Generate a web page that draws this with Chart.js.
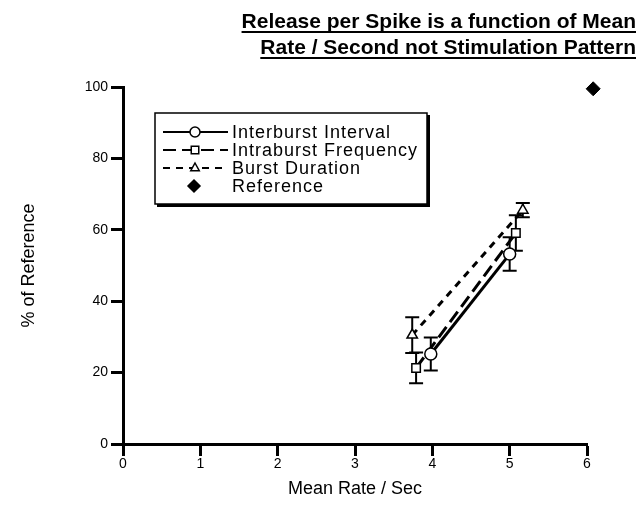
<!DOCTYPE html>
<html>
<head>
<meta charset="utf-8">
<style>
  html, body { margin: 0; padding: 0; background: #fff; }
  #wrap { width: 639px; height: 514px; }
</style>
<script src="https://cdn.jsdelivr.net/npm/chart.js@4/dist/chart.umd.min.js"></script>
</head>
<body>
<div id="wrap"><canvas id="rateChart" width="639" height="514"></canvas></div>
<script>
// values
const rateInterburst = [3.98, 5.0];
const pctInterburst = [25.2, 53.2];
const errInterburst = [4.6, 4.7];

const rateIntraburst = [3.79, 5.08];
const pctIntraburst = [21.3, 59.1];
const errIntraburst = [4.3, 5.0];

const rateBurstDur = [3.74, 5.17];
const pctBurstDur = [30.5, 65.5];
const errBurstDur = [5.0, 2.0];

const rateReference = [6.08];
const pctReference = [99.5];

const xTicks = [0, 1, 2, 3, 4, 5, 6];
const yTicks = [0, 20, 40, 60, 80, 100];

const titleLines = ['Release per Spike is a function of Mean', 'Rate / Second not Stimulation Pattern'];
const FONT = "'Liberation Sans', Arial, Helvetica, sans-serif";

function toPoints(xs, ys) {
    return xs.map((x, i) => ({ x: x, y: ys[i] }));
}

const seriesList = [
    { label: 'Interburst Interval', xs: rateInterburst, ys: pctInterburst, err: errInterburst, style: 'circle', dash: [] },
    { label: 'Intraburst Frequency', xs: rateIntraburst, ys: pctIntraburst, err: errIntraburst, style: 'rect', dash: [13, 6] },
    { label: 'Burst Duration', xs: rateBurstDur, ys: pctBurstDur, err: errBurstDur, style: 'triangle', dash: [7, 6] }
];

const datasets = seriesList.map(s => ({
    label: s.label,
    data: toPoints(s.xs, s.ys),
    showLine: true,
    borderColor: '#000',
    borderWidth: 3,
    borderDash: s.dash,
    pointStyle: s.style,
    pointRadius: 6,
    pointBackgroundColor: '#fff',
    pointBorderColor: '#000',
    pointBorderWidth: 1.5,
    errors: s.err
}));
datasets.push({
    label: 'Reference',
    data: toPoints(rateReference, pctReference),
    showLine: false,
    pointStyle: 'rectRot',
    pointRadius: 7,
    pointBackgroundColor: '#000',
    pointBorderColor: '#000',
    pointBorderWidth: 1,
    clip: false
});

// vertical error bars, drawn under the markers
const errorBars = {
    id: 'errorBars',
    beforeDatasetsDraw(chart) {
        const ctx = chart.ctx;
        const xs = chart.scales.x, ys = chart.scales.y;
        ctx.save();
        ctx.strokeStyle = '#000';
        ctx.lineWidth = 2;
        chart.data.datasets.forEach(ds => {
            if (!ds.errors) return;
            ds.data.forEach((p, i) => {
                const px = xs.getPixelForValue(p.x);
                const top = ys.getPixelForValue(p.y + ds.errors[i]);
                const bot = ys.getPixelForValue(p.y - ds.errors[i]);
                ctx.beginPath();
                ctx.moveTo(px, top); ctx.lineTo(px, bot);
                ctx.moveTo(px - 7, top); ctx.lineTo(px + 7, top);
                ctx.moveTo(px - 7, bot); ctx.lineTo(px + 7, bot);
                ctx.stroke();
            });
        });
        ctx.restore();
    }
};

function drawMarker(ctx, style, x, y, r, fill) {
    ctx.beginPath();
    if (style === 'circle') {
        ctx.arc(x, y, r, 0, Math.PI * 2);
    } else if (style === 'rect') {
        ctx.rect(x - r * 0.75, y - r * 0.75, r * 1.5, r * 1.5);
    } else if (style === 'triangle') {
        ctx.moveTo(x, y - r);
        ctx.lineTo(x + r * 0.85, y + r * 0.55);
        ctx.lineTo(x - r * 0.85, y + r * 0.55);
        ctx.closePath();
    } else {
        ctx.moveTo(x, y - r); ctx.lineTo(x + r, y); ctx.lineTo(x, y + r); ctx.lineTo(x - r, y);
        ctx.closePath();
    }
    ctx.fillStyle = fill;
    ctx.fill();
    ctx.lineWidth = 1.5;
    ctx.strokeStyle = '#000';
    ctx.stroke();
}

// boxed legend inside the plot + underlined title
const boxLegend = {
    id: 'boxLegend',
    afterDraw(chart) {
        const ctx = chart.ctx;
        ctx.save();
        // title
        ctx.fillStyle = '#000';
        ctx.font = 'bold 21px ' + FONT;
        ctx.textAlign = 'right';
        ctx.textBaseline = 'alphabetic';
        const baselines = [28, 54];
        titleLines.forEach((t, i) => {
            ctx.fillText(t, 636, baselines[i]);
            const w = ctx.measureText(t).width;
            ctx.fillRect(636 - w, baselines[i] + 3, w, 2);
        });

        // legend box
        const bx = 155, by = 113, bw = 272, bh = 91;
        ctx.fillStyle = '#fff';
        ctx.fillRect(bx, by, bw, bh);
        ctx.strokeStyle = '#000';
        ctx.lineWidth = 1.5;
        ctx.strokeRect(bx, by, bw, bh);
        ctx.fillStyle = '#000';
        ctx.fillRect(bx + 2, by + bh, bw, 3);
        ctx.fillRect(bx + bw, by + 2, 3, bh + 1);

        const rows = [132, 150, 168, 186];
        ctx.font = '18px ' + FONT;
        ctx.letterSpacing = '1px';
        ctx.textAlign = 'left';
        ctx.textBaseline = 'middle';
        chart.data.datasets.forEach((ds, i) => {
            const y = rows[i];
            if (ds.showLine) {
                ctx.beginPath();
                ctx.setLineDash(ds.borderDash);
                ctx.lineWidth = 2;
                ctx.moveTo(163, y); ctx.lineTo(228, y);
                ctx.stroke();
                ctx.setLineDash([]);
                drawMarker(ctx, ds.pointStyle, 195, y, 5, '#fff');
            } else {
                drawMarker(ctx, 'diamond', 194, y, 6, '#000');
            }
            ctx.fillStyle = '#000';
            ctx.fillText(ds.label, 232, y + 1);
        });
        ctx.restore();
    }
};

const axisFont = { family: FONT, size: 14 };
const titleFont = { family: FONT, size: 18 };

new Chart(document.getElementById('rateChart'), {
    type: 'scatter',
    data: { datasets: datasets },
    plugins: [errorBars, boxLegend],
    options: {
        responsive: false,
        animation: false,
        layout: { padding: { top: 87, right: 52, left: 0, bottom: 0 } },
        plugins: {
            legend: { display: false },
            title: { display: false },
            tooltip: { enabled: false }
        },
        scales: {
            x: {
                type: 'linear',
                min: 0,
                max: 6,
                afterBuildTicks: axis => { axis.ticks = xTicks.map(v => ({ value: v })); },
                afterFit: axis => { axis.height = 70; },
                ticks: { color: '#000', font: axisFont, padding: 0 },
                grid: { drawOnChartArea: false, drawTicks: true, tickLength: 12, tickWidth: 3, tickColor: '#000' },
                border: { display: true, color: '#000', width: 3 },
                title: { display: true, text: 'Mean Rate / Sec', color: '#000', font: titleFont, padding: { top: 0, bottom: 14 } }
            },
            y: {
                type: 'linear',
                min: 0,
                max: 100,
                afterBuildTicks: axis => { axis.ticks = yTicks.map(v => ({ value: v })); },
                afterFit: axis => { axis.width = 123; },
                ticks: { color: '#000', font: axisFont, padding: 3 },
                grid: { drawOnChartArea: false, drawTicks: true, tickLength: 12, tickWidth: 3, tickColor: '#000' },
                border: { display: true, color: '#000', width: 3 },
                title: { display: true, text: '% of Reference', color: '#000', font: titleFont, padding: { top: 18, bottom: 0 } }
            }
        }
    }
});
</script>
</body>
</html>
